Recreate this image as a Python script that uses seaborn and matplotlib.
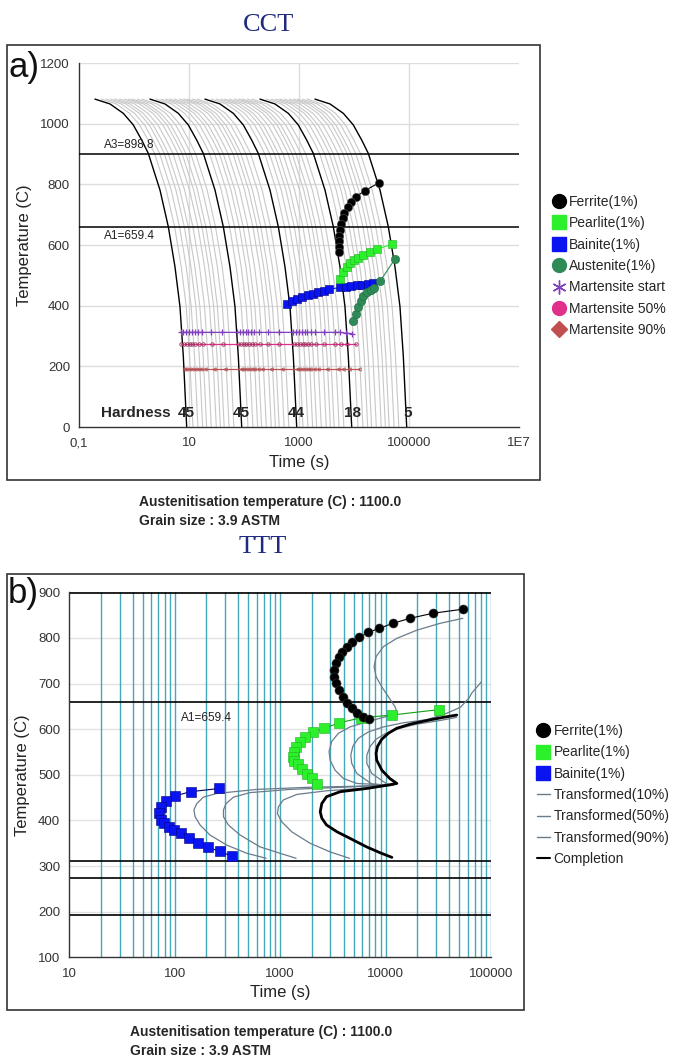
import matplotlib
matplotlib.use("Agg")
import numpy as np
import pandas as pd
import matplotlib.pyplot as plt
import seaborn as sns
from matplotlib.lines import Line2D
from matplotlib.patches import Rectangle
from matplotlib.ticker import FixedLocator, FixedFormatter, NullFormatter

sns.set_style("white")
plt.rcParams["font.family"] = ["Liberation Sans", "DejaVu Sans"]

# ---------------- CCT data ----------------
# shape of one cooling curve (time s, temp C), the others are the same curve at slower rates
cool_time = [0.195, 0.366, 0.64, 0.97, 1.38, 1.82, 2.97, 4.21, 5.56, 6.85, 7.89, 9.08]
cool_temp = [1081, 1065, 1034, 996, 946, 902, 781, 660, 528, 397, 232, 0]
black_scale = [1, 10, 100, 1000, 10000]
grey_scale = [1.3, 1.6, 1.95, 2.3, 2.8, 3.45, 4.1, 4.8, 5.9, 7.2]

ferrite_cct_t = [28400, 15700, 10900, 8800, 7800, 6700, 6200, 5700, 5500, 5400, 5350, 5400, 5400]
ferrite_cct_T = [805, 779, 759, 743, 726, 705, 688, 668, 648, 630, 612, 594, 576]
pearlite_cct_t = [5560, 6310, 7410, 8510, 10000, 12000, 14800, 19500, 25700, 50100]
pearlite_cct_T = [487, 510, 527, 540, 550, 558, 567, 578, 586, 603]
bainite_cct_t = [617, 759, 933, 1150, 1450, 1780, 2240, 2820, 3550, 5560, 7080, 8910,
                 11200, 14100, 17800, 22400]
bainite_cct_T = [406, 414, 421, 428, 434, 440, 445, 450, 454, 460, 463, 465, 467, 469, 471, 474]
austenite_cct_t = [9770, 10700, 11700, 13200, 14800, 17000, 20000, 23400, 30200, 55000]
austenite_cct_T = [350, 372, 395, 415, 432, 444, 452, 458, 482, 553]

ms_t = [7.1, 7.9, 8.9, 10, 11.2, 12.6, 14.5, 17.4, 25, 40,
        76, 85, 95, 107, 120, 135, 155, 186, 269, 427,
        794, 891, 1000, 1122, 1259, 1413, 1622, 1950, 2818, 4467,
        5623, 7244, 9333]
ms_T = [312] * 31 + [309, 308]
m50_t = [7.3, 8.1, 9.1, 10.3, 11.5, 13, 15, 18, 26, 41,
         78, 88, 98, 110, 124, 140, 160, 192, 278, 440,
         820, 920, 1030, 1160, 1300, 1460, 1670, 2010, 2900, 4600,
         5800, 7500, 10700]
m50_T = [273] * 33
m90_t = [8.1, 9, 10, 11.4, 12.8, 14.4, 16.5, 19.8, 28.5, 45,
         87, 97, 108, 122, 137, 154, 177, 212, 307, 487,
         905, 1016, 1140, 1280, 1435, 1610, 1850, 2220, 3210, 5090,
         6400, 8260, 12300]
m90_T = [191] * 33

hardness_t = [8.9, 89, 890, 9300, 93000]
hardness_vals = ["45", "45", "44", "18", "5"]
a3, a1 = 898.8, 659.4

# ---------------- TTT data ----------------
ferrite_ttt_t = [54000, 28000, 17100, 11700, 8750, 6780, 5650, 4780, 4290, 3900, 3620, 3400,
                 3270, 3270, 3400, 3620, 3930, 4290, 4780, 5330, 6080, 6980]
ferrite_ttt_T = [863, 854, 843, 832, 821, 812, 801, 790, 781, 770, 759, 744,
                 730, 715, 701, 686, 671, 657, 646, 636, 627, 622]
pearlite_ttt_t = [32400, 11500, 5890, 3630, 2630, 2040, 1720, 1530, 1410, 1340, 1320, 1350,
                  1480, 1620, 1780, 2000, 2240]
pearlite_ttt_T = [643, 631, 625, 614, 602, 593, 583, 572, 560, 549, 538, 530,
                  523, 512, 502, 492, 480]
bainite_ttt_t = [264, 142, 101, 83, 74, 71.5, 74, 79, 88, 99, 114, 138, 167, 208, 269, 352]
bainite_ttt_T = [470, 463, 454, 443, 430, 416, 402, 394, 386, 379, 372, 361, 351, 341, 332, 321]

tr10_t = [735, 482, 311, 216, 174, 156, 152, 162, 187, 250, 600, 1790, 5330, 10250,
          5330, 3980, 3320, 2980, 2910, 3080, 3570, 4600, 6640, 9550, 12900,
          12300, 10640, 9200, 8130, 7780, 8130, 9550, 12760, 19800, 32900, 54000]
tr10_T = [317, 328, 346, 368, 390, 408, 423, 437, 451, 459, 468, 472.5, 475, 478,
          481, 492, 510, 532, 551, 573, 591, 605, 616, 626, 635,
          649, 671, 693, 715, 737, 759, 781, 799, 817, 832, 843]
tr50_t = [1416, 998, 644, 417, 323, 290, 290, 307, 361, 519, 1242, 3707, 10250,
          7396, 5333, 4775, 4677, 4887, 5521, 6871, 9550, 14760, 24600, 35500,
          51300, 61700, 66100, 81300]
tr50_T = [317, 328, 342, 368, 390, 408, 423, 437, 451, 461, 468, 472.5, 477,
          480, 503, 525, 543, 562, 580, 594, 605, 614, 621, 632,
          648, 668, 680, 704]
tr90_t = [4540, 2980, 1920, 1290, 1035, 942, 964, 1074, 1439, 2767, 7674, 11890,
          10250, 7396, 6637, 6637, 7129, 8128, 10250, 13740, 19770, 32890, 47300]
tr90_T = [317, 331, 350, 375, 397, 415, 430, 445, 457, 465, 472, 477,
          480, 503, 525, 543, 562, 578, 592, 602, 611, 619, 626]
compl_t = [11480, 8913, 6607, 4571, 3467, 2754, 2483, 2399, 2483, 2754, 3715, 6607, 10230,
           12790, 10960, 9226, 8241, 8128, 8375, 9204, 10640, 12760, 17100, 24600, 35400, 47300]
compl_T = [319, 329, 342, 361, 375, 390, 405, 419, 437, 452, 463, 470, 477,
           481, 492, 510, 532, 547, 562, 578, 591, 602, 611, 619, 626, 631]
ttt_hlines = [898.8, 659.4, 312, 273, 192]

# colours
C_FER = "black"
C_PEA = "#2CF02C"
C_BAI = "#0A14F0"
C_AUS = "#2E8B57"
C_MS = "#7F3FBF"
C_M50 = "#E0308A"
C_M90 = "#C05050"
C_TR = "#6A7B8A"
C_TEAL = "#45A8B8"
C_NAVY = "#1F2A80"

W, H = 691, 1064
fig = plt.figure(figsize=(W / 100, H / 100), dpi=100)
fig.patch.set_facecolor("white")


def fx(px):
    return px / W


def fy(py):
    return 1 - py / H


def curve(ax, t, T, **kw):
    sns.lineplot(x=t, y=T, sort=False, estimator=None, ax=ax, legend=False, **kw)


def style_axis(ax):
    for s in ["top", "right"]:
        ax.spines[s].set_visible(False)
    for s in ["left", "bottom"]:
        ax.spines[s].set_color("#333333")
        ax.spines[s].set_linewidth(1.0)
    ax.tick_params(which="major", direction="inout", length=7, width=0.9, colors="#333333",
                   labelcolor="#333333", labelsize=9.5, pad=3)
    ax.tick_params(which="minor", direction="inout", length=5, width=0.8, colors="#333333")
    ax.tick_params(axis="x", which="major", pad=4)


# frames around each panel
fig.add_artist(Rectangle((fx(7), fy(480)), (540 - 7) / W, (480 - 45) / H,
                         transform=fig.transFigure, fill=False, ec="#333333", lw=1.2))
fig.add_artist(Rectangle((fx(7), fy(1010)), (524 - 7) / W, (1010 - 574) / H,
                         transform=fig.transFigure, fill=False, ec="#333333", lw=1.2))

# ================= CCT =================
ax1 = fig.add_axes([fx(79), fy(427), (519 - 79) / W, (427 - 63) / H])
ax1.set_xscale("log")
ax1.set_xlim(0.1, 1e7)
ax1.set_ylim(0, 1200)
for x in [10, 1000, 100000]:
    ax1.axvline(x, color="#DDDDDD", lw=1, zorder=0)
for y in range(200, 1201, 200):
    ax1.axhline(y, color="#DDDDDD", lw=1, zorder=0)

for k, b in enumerate(black_scale):
    if k < len(black_scale) - 1:
        for g in grey_scale:
            curve(ax1, [t * b * g for t in cool_time], cool_temp, color="#C8C8C8", lw=0.8, zorder=1)
for b in black_scale:
    curve(ax1, [t * b for t in cool_time], cool_temp, color="black", lw=1.0, zorder=2)

ax1.axhline(a3, color="black", lw=1.1, zorder=3)
ax1.axhline(a1, color="black", lw=1.1, zorder=3)
ax1.text(0.285, a3 + 12, "A3=898.8", fontsize=8.5, color="#222222", va="bottom", ha="left")
ax1.text(0.285, a1 - 10, "A1=659.4", fontsize=8.5, color="#222222", va="top", ha="left")

curve(ax1, ms_t, ms_T, color=C_MS, lw=0.9, marker="+", markersize=4.5, mec=C_MS, mew=0.9,
      zorder=4)
curve(ax1, m50_t, m50_T, color=C_M50, lw=0.9, marker="o", markersize=2.5, mfc="none",
      mec="#9A2F5A", mew=0.6, zorder=4)
curve(ax1, m90_t, m90_T, color=C_M90, lw=0.9, marker="<", markersize=2.5, mfc="none",
      mec="#B05050", mew=0.6, zorder=4)

curve(ax1, bainite_cct_t, bainite_cct_T, color=C_BAI, lw=0.8, marker="s", markersize=6,
      mec="#000080", mew=0.4, zorder=5)
curve(ax1, austenite_cct_t, austenite_cct_T, color=C_AUS, lw=0.8, marker="o", markersize=6,
      mec="#1E6B40", mew=0.4, zorder=5)
curve(ax1, pearlite_cct_t, pearlite_cct_T, color=C_PEA, lw=0.8, marker="s", markersize=6,
      mec="#20B020", mew=0.4, zorder=5)
curve(ax1, ferrite_cct_t, ferrite_cct_T, color=C_FER, lw=0.8, marker="o", markersize=6,
      mec="#555555", mew=0.4, zorder=6)

ax1.text(4.6, 47, "Hardness", fontsize=11, fontweight="bold", ha="right", va="center")
for t, h in zip(hardness_t, hardness_vals):
    ax1.text(t, 47, h, fontsize=11, fontweight="bold", ha="center", va="center")

style_axis(ax1)
major_x = [10.0 ** e for e in range(-1, 8)]
lab_x = ["0,1", "", "10", "", "1000", "", "100000", "", "1E7"]
ax1.xaxis.set_major_locator(FixedLocator(major_x))
ax1.xaxis.set_major_formatter(FixedFormatter(lab_x))
ax1.xaxis.set_minor_locator(FixedLocator([m * 10.0 ** e for e in range(-1, 7) for m in range(2, 10)]))
ax1.xaxis.set_minor_formatter(NullFormatter())
ax1.set_yticks(range(0, 1201, 200))
ax1.yaxis.set_minor_locator(FixedLocator(range(100, 1200, 200)))
ax1.set_xlabel("Time (s)", fontsize=12, labelpad=4, color="#222222")
ax1.set_ylabel("Temperature (C)", fontsize=12, labelpad=6, color="#222222")

# ================= TTT =================
ax2 = fig.add_axes([fx(69.3), fy(957.3), (491 - 69.3) / W, (957.3 - 592.3) / H])
ax2.set_xscale("log")
ax2.set_xlim(10, 100000)
ax2.set_ylim(100, 900)
for y in range(200, 901, 100):
    ax2.axhline(y, color="#E2E2E2", lw=1, zorder=0)
teal_x = [m * 10.0 ** e for e in range(1, 5) for m in range(1, 10)][1:] + [100000]
for x in teal_x:
    ax2.axvline(x, color=C_TEAL, lw=1.0, zorder=0.5)
for y in ttt_hlines:
    ax2.axhline(y, color="black", lw=1.2, zorder=1)
ax2.text(115, 625, "A1=659.4", fontsize=8.5, color="#222222", va="center", ha="left")

curve(ax2, tr10_t, tr10_T, color=C_TR, lw=0.9, zorder=2)
curve(ax2, tr50_t, tr50_T, color=C_TR, lw=0.9, zorder=2)
curve(ax2, tr90_t, tr90_T, color=C_TR, lw=0.9, zorder=2)
curve(ax2, compl_t, compl_T, color="black", lw=2.0, zorder=3)

curve(ax2, bainite_ttt_t, bainite_ttt_T, color="#000060", lw=0.8, marker="s", markersize=6.5,
      mfc=C_BAI, mec="#000080", mew=0.4, zorder=5)
curve(ax2, pearlite_ttt_t, pearlite_ttt_T, color="#10A010", lw=0.8, marker="s", markersize=6.5,
      mfc=C_PEA, mec="#20B020", mew=0.4, zorder=5)
curve(ax2, ferrite_ttt_t, ferrite_ttt_T, color="black", lw=0.8, marker="o", markersize=6.5,
      mfc="black", mec="#333333", mew=0.4, zorder=6)

style_axis(ax2)
ax2.xaxis.set_major_locator(FixedLocator([10, 100, 1000, 10000, 100000]))
ax2.xaxis.set_major_formatter(FixedFormatter(["10", "100", "1000", "10000", "100000"]))
ax2.xaxis.set_minor_locator(FixedLocator([m * 10.0 ** e for e in range(1, 5) for m in range(2, 10)]))
ax2.xaxis.set_minor_formatter(NullFormatter())
ax2.set_yticks(range(100, 901, 100))
ax2.yaxis.set_minor_locator(FixedLocator(range(150, 900, 100)))
ax2.set_xlabel("Time (s)", fontsize=12, labelpad=4, color="#222222")
ax2.set_ylabel("Temperature (C)", fontsize=12, labelpad=6, color="#222222")

# ================= legends =================
top_handles = [
    Line2D([], [], ls="none", marker="o", ms=10, color="black"),
    Line2D([], [], ls="none", marker="s", ms=10, color=C_PEA),
    Line2D([], [], ls="none", marker="s", ms=10, color=C_BAI),
    Line2D([], [], ls="none", marker="o", ms=10, color=C_AUS),
    Line2D([], [], ls="none", marker=(6, 2, 0), ms=10, color=C_MS, mew=1),
    Line2D([], [], ls="none", marker="o", ms=10, color=C_M50),
    Line2D([], [], ls="none", marker="D", ms=8, color=C_M90),
]
top_labels = ["Ferrite(1%)", "Pearlite(1%)", "Bainite(1%)", "Austenite(1%)",
              "Martensite start", "Martensite 50%", "Martensite 90%"]
fig.legend(top_handles, top_labels, loc="upper left", bbox_to_anchor=(fx(553), fy(195)),
           frameon=False, fontsize=10, handlelength=0.8, handletextpad=0.35,
           labelspacing=0.53, borderpad=0, borderaxespad=0)

bot_handles = [
    Line2D([], [], ls="none", marker="o", ms=10, color="black"),
    Line2D([], [], ls="none", marker="s", ms=10, color=C_PEA),
    Line2D([], [], ls="none", marker="s", ms=10, color=C_BAI),
    Line2D([], [], color=C_TR, lw=1),
    Line2D([], [], color=C_TR, lw=1),
    Line2D([], [], color=C_TR, lw=1),
    Line2D([], [], color="black", lw=1.5),
]
bot_labels = ["Ferrite(1%)", "Pearlite(1%)", "Bainite(1%)", "Transformed(10%)",
              "Transformed(50%)", "Transformed(90%)", "Completion"]
fig.legend(bot_handles, bot_labels, loc="upper left", bbox_to_anchor=(fx(537), fy(724)),
           frameon=False, fontsize=10, handlelength=0.9, handletextpad=0.3,
           labelspacing=0.53, borderpad=0, borderaxespad=0)

# ================= titles and notes =================
fig.text(fx(269), fy(25), "CCT", fontsize=19, family="Liberation Serif", color=C_NAVY,
         ha="center", va="center")
fig.text(fx(263), fy(547), "TTT", fontsize=19, family="Liberation Serif", color=C_NAVY,
         ha="center", va="center")
fig.text(fx(8), fy(77), "a)", fontsize=25, color="#111111", ha="left", va="baseline")
fig.text(fx(8), fy(603), "b)", fontsize=25, color="#111111", ha="left", va="baseline")

note_font = ["Liberation Sans Narrow", "Liberation Sans"]
for x0, y0 in [(139, 502), (130, 1032)]:
    fig.text(fx(x0), fy(y0), "Austenitisation temperature (C) : 1100.0", fontsize=10,
             fontweight="bold", family=note_font, ha="left", va="center")
    fig.text(fx(x0), fy(y0 + 19), "Grain size : 3.9 ASTM", fontsize=10,
             fontweight="bold", family=note_font, ha="left", va="center")

fig.savefig("out.png", dpi=100, facecolor="white")
